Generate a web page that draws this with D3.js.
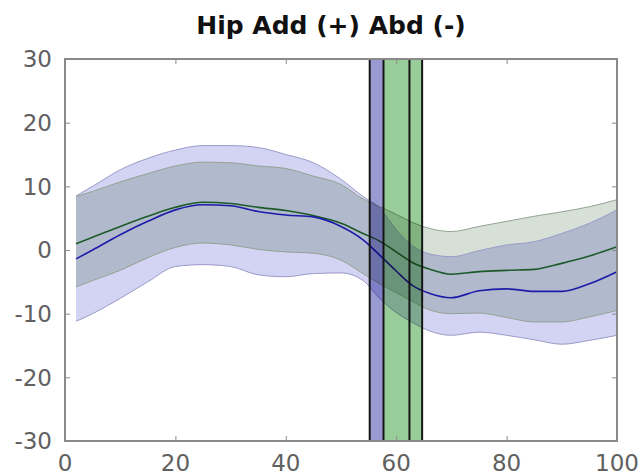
<!DOCTYPE html>
<html>
<head>
<meta charset="utf-8">
<script src="https://cdn.jsdelivr.net/npm/d3@7"></script>
<style>
  html, body { margin: 0; padding: 0; background: #fff; }
  svg { display: block; }
</style>
</head>
<body>
<svg id="chart" width="642" height="475"></svg>
<script>
// Gait cycle (%) sample positions
const pct = [2, 5, 10, 15, 20, 25, 30, 35, 40, 45, 50, 54, 57, 60, 63, 66, 70, 75, 80, 85, 90, 95, 100];

// Green group: mean and +/- 1 SD (deg)
const greenMean  = [1.0, 2.0, 3.7, 5.3, 6.7, 7.5, 7.3, 6.7, 6.2, 5.4, 4.2, 2.6, 1.4, -0.3, -2.0, -3.0, -3.8, -3.4, -3.2, -3.05, -2.1, -0.95, 0.5];
const greenUpper = [8.4, 9.2, 10.7, 12.0, 13.2, 13.8, 13.7, 13.2, 12.8, 11.6, 10.3, 8.0, 6.8, 5.6, 4.3, 3.4, 2.9, 3.7, 4.5, 5.3, 6.0, 6.8, 7.9];
const greenLower = [-5.8, -4.8, -3.2, -1.2, 0.4, 1.1, 0.8, 0.1, -0.3, -0.5, -1.6, -3.7, -5.3, -6.7, -8.1, -9.4, -10.0, -9.9, -10.6, -11.3, -11.3, -10.5, -9.5];

// Blue group: mean and +/- 1 SD (deg)
const blueMean  = [-1.4, 0.0, 2.4, 4.5, 6.3, 7.1, 6.95, 6.05, 5.5, 5.2, 3.7, 1.6, -0.8, -3.3, -5.6, -6.8, -7.5, -6.4, -6.1, -6.5, -6.5, -5.3, -3.4];
const blueUpper = [8.5, 10.0, 12.6, 14.4, 15.7, 16.4, 16.4, 16.1, 15.0, 13.7, 11.1, 8.4, 6.6, 3.2, 0.6, -0.6, -1.05, -0.1, 0.8, 1.3, 2.6, 4.2, 6.3];
const blueLower = [-11.2, -10.0, -7.6, -5.0, -2.6, -2.3, -2.6, -3.9, -4.2, -3.7, -3.6, -4.8, -7.6, -9.8, -11.4, -12.7, -13.4, -12.9, -13.4, -14.1, -14.8, -14.2, -13.4];

// Event windows (toe-off ranges, % cycle) and their marker lines
const eventBands = [
  { name: "blue",  from: 55.2, to: 57.7 },
  { name: "green", from: 57.7, to: 64.7 }
];
const eventLines = [55.2, 57.7, 62.4, 64.7];

const xTicks = [0, 20, 40, 60, 80, 100];
const yTicks = [-30, -20, -10, 0, 10, 20, 30];
const title = "Hip Add (+) Abd (-)";

const svg = d3.select("#chart");
const box = { left: 65, right: 617, top: 59, bottom: 441 };

const x = d3.scaleLinear().domain([0, 100]).range([box.left, box.right]);
const y = d3.scaleLinear().domain([-30, 30]).range([box.bottom, box.top]);

const curve = d3.curveMonotoneX;
const rows = (lo, hi) => pct.map((p, i) => ({ p, lo: lo[i], hi: hi[i] }));
const area = d3.area().x(d => x(d.p)).y0(d => y(d.lo)).y1(d => y(d.hi)).curve(curve);
const line = d3.line().x(d => x(d[0])).y(d => y(d[1])).curve(curve);

const plot = svg.append("g").style("isolation", "isolate");

// SD envelopes
plot.append("path").datum(rows(blueLower, blueUpper))
  .attr("d", area).attr("fill", "#d3d3f3");
plot.append("path").datum(rows(greenLower, greenUpper))
  .attr("d", area).attr("fill", "#d6e0d6").style("mix-blend-mode", "multiply");

// envelope edges
[[blueUpper, "#9a9ac8"], [blueLower, "#9a9ac8"], [greenUpper, "#93a292"], [greenLower, "#93a292"]]
  .forEach(([arr, c]) => {
    plot.append("path").datum(pct.map((p, i) => [p, arr[i]]))
      .attr("d", line).attr("fill", "none").attr("stroke", c).attr("stroke-width", 1);
  });

// means
plot.append("path").datum(pct.map((p, i) => [p, greenMean[i]]))
  .attr("d", line).attr("fill", "none").attr("stroke", "#1d5a2a").attr("stroke-width", 1.6);
plot.append("path").datum(pct.map((p, i) => [p, blueMean[i]]))
  .attr("d", line).attr("fill", "none").attr("stroke", "#1c1ca8").attr("stroke-width", 1.6);

// event bands
const bandColor = { blue: "#9a9ad2", green: "#98cc98" };
plot.selectAll("rect.band").data(eventBands).join("rect")
  .attr("class", "band")
  .attr("x", d => x(d.from)).attr("width", d => x(d.to) - x(d.from))
  .attr("y", box.top).attr("height", box.bottom - box.top)
  .attr("fill", d => bandColor[d.name])
  .style("mix-blend-mode", "multiply");

plot.selectAll("line.event").data(eventLines).join("line")
  .attr("class", "event")
  .attr("x1", d => x(d)).attr("x2", d => x(d))
  .attr("y1", box.top).attr("y2", box.bottom)
  .attr("stroke", "#151515").attr("stroke-width", 2);

// axes box
const axisColor = "#8a8a8a";
const styleAxis = g => {
  g.select(".domain").remove();
  g.selectAll("line").attr("stroke", axisColor);
};
svg.append("g").attr("transform", `translate(0,${box.bottom})`)
  .call(d3.axisBottom(x).tickValues(xTicks).tickSize(-5).tickFormat("")).call(styleAxis);
svg.append("g").attr("transform", `translate(0,${box.top})`)
  .call(d3.axisTop(x).tickValues(xTicks).tickSize(-5).tickFormat("")).call(styleAxis);
svg.append("g").attr("transform", `translate(${box.left},0)`)
  .call(d3.axisLeft(y).tickValues(yTicks).tickSize(-5).tickFormat("")).call(styleAxis);
svg.append("g").attr("transform", `translate(${box.right},0)`)
  .call(d3.axisRight(y).tickValues(yTicks).tickSize(-5).tickFormat("")).call(styleAxis);

svg.append("rect")
  .attr("x", box.left).attr("y", box.top)
  .attr("width", box.right - box.left).attr("height", box.bottom - box.top)
  .attr("fill", "none").attr("stroke", axisColor).attr("stroke-width", 2);

// tick labels
const labelFont = "'DejaVu Sans', 'Liberation Sans', sans-serif";
svg.append("g").selectAll("text").data(xTicks).join("text")
  .attr("x", d => x(d)).attr("y", 471)
  .attr("text-anchor", "middle")
  .attr("font-family", labelFont).attr("font-size", 23)
  .attr("fill", "#606060")
  .text(d => d);
svg.append("g").selectAll("text").data(yTicks).join("text")
  .attr("x", 52).attr("y", d => y(d)).attr("dy", "0.36em")
  .attr("text-anchor", "end")
  .attr("font-family", labelFont).attr("font-size", 23)
  .attr("fill", "#606060")
  .text(d => d);

// title
svg.append("text")
  .attr("x", 331).attr("y", 34)
  .attr("text-anchor", "middle")
  .attr("font-family", labelFont).attr("font-weight", "bold").attr("font-size", 25)
  .attr("fill", "#111")
  .text(title);
</script>
</body>
</html>
